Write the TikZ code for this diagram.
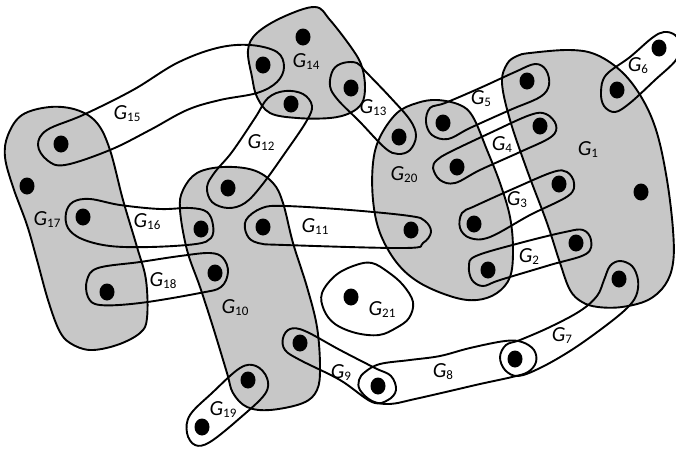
\documentclass[tikz,border=0pt]{standalone}
\usepackage{fontspec}
\setmainfont{Carlito}
\usetikzlibrary{shapes.geometric}
\newcommand{\Glab}[1]{\textit{G}\raisebox{-2pt}{\fontsize{13}{15}\selectfont #1}}
\begin{document}
\begin{tikzpicture}[x=1pt,y=-1pt,
  edgeline/.style={draw=black,line width=1.9pt,line join=round},
  grayblob/.style={edgeline,fill=black!22},
  vdot/.style={shape=ellipse,fill=black,draw=none,inner sep=0pt,minimum width=15pt,minimum height=17pt},
  lab/.style={inner sep=0pt,font=\fontsize{21.5}{25}\selectfont}]
\useasboundingbox (0,0) rectangle (676,450);

% ---- gray hyperedges ----
\draw[grayblob] plot[smooth cycle,tension=0.6] coordinates {(315,7) (330,20) (353,50) (362,67) (365,87) (362,103) (350,113) (330,118) (297,118) (270,113) (257,97) (252,77) (248,50) (257,33) (283,17)};
\draw[grayblob] plot[smooth cycle,tension=0.6] coordinates {(50,107) (77,110) (97,123) (110,150) (123,200) (137,247) (146,280) (147,318) (140,333) (117,345) (90,350) (70,343) (59,330) (48,300) (37,260) (27,225) (13,187) (5,157) (8,135) (22,115)};
\draw[grayblob] plot[smooth cycle,tension=0.6] coordinates {(223,167) (253,170) (273,183) (283,203) (293,243) (307,287) (317,327) (320,367) (317,390) (303,403) (270,410) (247,407) (233,393) (227,373) (213,327) (200,287) (187,250) (180,210) (183,190) (197,173)};
\draw[grayblob] plot[smooth cycle,tension=0.6] coordinates {(437,100) (460,105) (473,117) (487,150) (500,183) (510,217) (513,250) (510,277) (497,293) (477,300) (453,297) (420,283) (397,263) (380,233) (373,200) (373,163) (380,137) (397,113) (417,103)};
\draw[grayblob] plot[smooth cycle,tension=0.6] coordinates {(530,53) (570,50) (597,55) (623,73) (643,100) (657,133) (667,180) (673,230) (673,263) (665,285) (648,300) (622,307) (598,307) (582,302) (570,290) (560,263) (547,223) (527,170) (510,120) (502,83) (507,64) (517,56)};

% ---- white hyperedges ----
\draw[edgeline] plot[smooth cycle,tension=0.6] coordinates {(47,130) (83,115) (133,90) (177,63) (217,48) (250,45) (277,52) (284,67) (277,82) (257,93) (220,100) (187,110) (150,130) (110,150) (65,165) (47,160) (38,145)};
\draw[edgeline] plot[smooth cycle,tension=0.6] coordinates {(268,98) (285,91) (303,94) (312,106) (306,122) (285,153) (262,185) (245,203) (228,208) (212,202) (207,187) (215,172) (232,152) (255,118)};
\draw[edgeline] plot[smooth cycle,tension=0.6] coordinates {(343,63) (357,63) (366,72) (390,97) (410,120) (416,136) (410,150) (398,154) (385,148) (360,122) (338,100) (330,86) (333,70)};
\draw[edgeline] plot[smooth cycle,tension=0.6] coordinates {(601,92) (606,75) (630,57) (652,38) (664,32) (675,35) (680,45) (676,60) (655,80) (630,103) (615,112) (604,106)};
\draw[edgeline] plot[smooth cycle,tension=0.6] coordinates {(430,108) (445,103) (480,88) (515,72) (535,64) (546,70) (549,85) (540,97) (510,110) (470,128) (448,139) (432,135) (426,122)};
\draw[edgeline] plot[smooth cycle,tension=0.6] coordinates {(437,160) (450,152) (490,133) (530,115) (546,114) (556,125) (551,137) (520,152) (480,170) (455,183) (440,180) (433,168)};
\draw[edgeline] plot[smooth cycle,tension=0.6] coordinates {(462,213) (475,206) (515,188) (553,172) (567,172) (574,183) (568,196) (530,215) (490,237) (470,238) (460,228)};
\draw[edgeline] plot[smooth cycle,tension=0.6] coordinates {(476,256) (520,243) (565,232) (583,230) (591,240) (586,254) (550,265) (500,280) (483,286) (472,280) (469,266)};
\draw[edgeline] plot[smooth cycle,tension=0.6] coordinates {(262,208) (285,206) (350,210) (410,216) (425,221) (431,232) (423,243) (405,248) (285,245) (258,243) (247,235) (246,220)};
\draw[edgeline] plot[smooth cycle,tension=0.6] coordinates {(73,202) (90,199) (120,205) (160,209) (190,208) (207,212) (213,225) (211,238) (196,244) (150,247) (110,246) (82,239) (68,228) (66,213)};
\draw[edgeline] plot[smooth cycle,tension=0.6] coordinates {(98,268) (140,262) (180,256) (210,253) (223,258) (228,272) (221,287) (200,293) (140,303) (100,305) (88,297) (87,280)};
\draw[edgeline] plot[smooth cycle,tension=0.6] coordinates {(240,368) (256,366) (267,378) (265,394) (240,418) (210,442) (195,445) (187,433) (190,415) (212,393)};
\draw[edgeline] plot[smooth cycle,tension=0.6] coordinates {(290,329) (305,331) (340,350) (375,368) (391,376) (396,390) (388,400) (372,402) (340,380) (300,360) (285,350) (283,338)};
\draw[edgeline] plot[smooth cycle,tension=0.6] coordinates {(365,372) (380,364) (410,360) (440,356) (470,348) (505,341) (522,342) (534,350) (536,362) (528,372) (512,377) (480,384) (450,391) (415,399) (390,404) (372,401) (360,390) (359,380)};
\draw[edgeline] plot[smooth cycle,tension=0.6] coordinates {(610,266) (620,261) (632,266) (638,280) (636,296) (625,310) (600,330) (570,351) (540,368) (518,376) (505,370) (500,357) (506,345) (520,340) (550,327) (580,311) (597,296) (604,280)};
\draw[edgeline] plot[smooth cycle,tension=0.6] coordinates {(336,275) (356,265) (372,263) (388,272) (403,285) (413,302) (409,318) (396,328) (379,335) (356,333) (335,324) (324,310) (322,293)};

% ---- vertices ----
\node[vdot] (v1) at (303,37) {};
\node[vdot] (v2) at (263,65) {};
\node[vdot] (v3) at (291,104) {};
\node[vdot] (v4) at (61,144) {};
\node[vdot] (v5) at (27,186) {};
\node[vdot] (v6) at (228,188) {};
\node[vdot] (v7) at (83,217) {};
\node[vdot] (v8) at (659,48) {};
\node[vdot] (v9) at (617,90) {};
\node[vdot] (v10) at (527,81) {};
\node[vdot] (v11) at (351,88) {};
\node[vdot] (v12) at (443,123) {};
\node[vdot] (v13) at (399,137) {};
\node[vdot] (v14) at (540,126) {};
\node[vdot] (v15) at (457,167) {};
\node[vdot] (v16) at (559,184) {};
\node[vdot] (v17) at (641,192) {};
\node[vdot] (v18) at (474,224) {};
\node[vdot] (v19) at (201,229) {};
\node[vdot] (v20) at (263,227) {};
\node[vdot] (v21) at (411,230) {};
\node[vdot] (v22) at (215,273) {};
\node[vdot] (v23) at (107,292) {};
\node[vdot] (v24) at (300,343) {};
\node[vdot] (v25) at (248,380) {};
\node[vdot] (v26) at (202,427) {};
\node[vdot] (v27) at (576,243) {};
\node[vdot] (v28) at (488,270) {};
\node[vdot] (v29) at (619,279) {};
\node[vdot] (v30) at (351,297) {};
\node[vdot] (v31) at (515,359) {};
\node[vdot] (v32) at (378,386) {};

% ---- labels ----
\node[lab] (l1) at (588,150) {\Glab{1}};
\node[lab] (l2) at (529,257) {\Glab{2}};
\node[lab] (l3) at (517,200) {\Glab{3}};
\node[lab] (l4) at (502,145) {\Glab{4}};
\node[lab] (l5) at (481,99) {\Glab{5}};
\node[lab] (l6) at (638,66) {\Glab{6}};
\node[lab] (l7) at (562,336) {\Glab{7}};
\node[lab] (l8) at (443,372) {\Glab{8}};
\node[lab] (l9) at (341,373) {\Glab{9}};
\node[lab] (l10) at (235,308) {\Glab{10}};
\node[lab] (l11) at (315,227) {\Glab{11}};
\node[lab] (l12) at (261,143) {\Glab{12}};
\node[lab] (l13) at (373,108) {\Glab{13}};
\node[lab] (l14) at (306,62) {\Glab{14}};
\node[lab] (l15) at (127,114) {\Glab{15}};
\node[lab] (l16) at (147,222) {\Glab{16}};
\node[lab] (l17) at (47,220) {\Glab{17}};
\node[lab] (l18) at (163,281) {\Glab{18}};
\node[lab] (l19) at (223,410) {\Glab{19}};
\node[lab] (l20) at (404,175) {\Glab{20}};
\node[lab] (l21) at (382,310) {\Glab{21}};
\end{tikzpicture}
\end{document}
